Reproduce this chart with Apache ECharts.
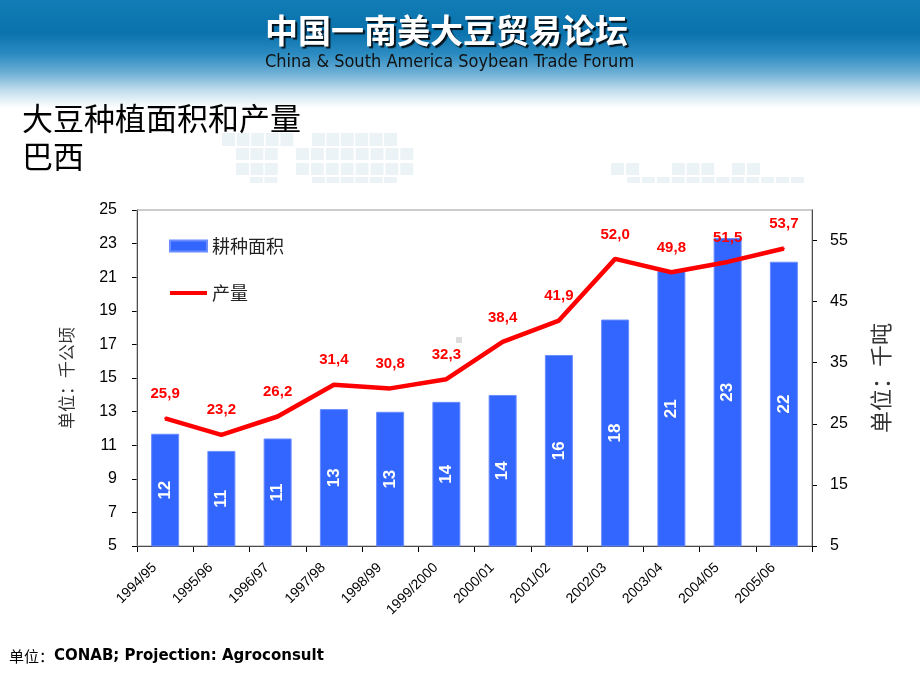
<!DOCTYPE html>
<html>
<head>
<meta charset="utf-8">
<script src="https://cdn.jsdelivr.net/npm/echarts@6/dist/echarts.min.js"></script>
<style>
html,body{margin:0;padding:0;background:#fff;}
#chart{width:920px;height:690px;}
</style>
</head>
<body>
<div id="chart"></div>
<script>
var categories = ['1994/95','1995/96','1996/97','1997/98','1998/99','1999/2000','2000/01','2001/02','2002/03','2003/04','2004/05','2005/06'];
var areaValues = [11.68, 10.66, 11.40, 13.15, 12.99, 13.58, 13.99, 16.37, 18.48, 21.37, 23.33, 21.92];
var productionValues = [25.9, 23.2, 26.2, 31.4, 30.8, 32.3, 38.4, 41.9, 52.0, 49.8, 51.5, 53.7];
var leftTicks = {min: 5, max: 25, interval: 2};
var rightTicks = {min: 5, max: 60, interval: 10};

var CJK = '"Noto Sans CJK SC", "Liberation Sans", sans-serif';
var LAT = '"Liberation Sans", Arial, sans-serif';

var chart = echarts.init(document.getElementById('chart'), null, {renderer: 'canvas'});

// decorative faint squares
var deco = [];
function sqRow(x0, y, n, w, h, step) {
  for (var i = 0; i < n; i++) {
    deco.push({type: 'rect', silent: true, z: 0,
      shape: {x: x0 + i * step, y: y, width: w, height: h},
      style: {fill: '#ecf3f7'}});
  }
}
sqRow(222, 133, 5, 13, 13, 14.6);
sqRow(312, 133, 6, 13, 13, 14.4);
sqRow(236, 148, 3, 13, 12, 14.4);
sqRow(296, 148, 8, 13, 12, 14.9);
sqRow(236, 163, 3, 13, 12, 14.4);
sqRow(296, 163, 8, 13, 12, 14.9);
sqRow(250, 177, 2, 13, 6, 14.4);
sqRow(312, 177, 6, 13, 6, 14.4);
sqRow(611, 163, 2, 13, 12, 15);
sqRow(672, 163, 3, 13, 12, 14.6);
sqRow(732, 163, 2, 13, 12, 15);
sqRow(627, 177, 12, 13, 6, 14.9);

var graphics = [
  {type: 'rect', silent: true, z: 0,
   shape: {x: 0, y: 0, width: 920, height: 108},
   style: {fill: new echarts.graphic.LinearGradient(0, 0, 0, 1, [
     {offset: 0, color: '#117cb5'},
     {offset: 0.3, color: '#0a72ad'},
     {offset: 0.5, color: '#2b8bc1'},
     {offset: 0.68, color: '#6fb0d6'},
     {offset: 0.82, color: '#b9d9ea'},
     {offset: 0.93, color: '#e6f1f7'},
     {offset: 1, color: '#ffffff'}
   ])}},
  {type: 'text', silent: true, z: 2, left: 265, top: 14,
   style: {text: '中国一南美大豆贸易论坛', fill: '#ffffff',
     font: 'bold 33px "Noto Sans CJK SC", sans-serif',
     textShadowColor: 'rgba(0,0,0,0.85)', textShadowOffsetX: 2, textShadowOffsetY: 2, textShadowBlur: 1}},
  {type: 'text', silent: true, z: 2, left: 265, top: 53,
   style: {text: 'China & South America Soybean Trade Forum', fill: '#111111',
     font: '18px "DejaVu Sans Condensed", "DejaVu Sans", sans-serif'}},
  {type: 'text', silent: true, z: 2, left: 22, top: 103,
   style: {text: '大豆种植面积和产量', fill: '#000000', font: '31px ' + CJK}},
  {type: 'text', silent: true, z: 2, left: 22, top: 141,
   style: {text: '巴西', fill: '#000000', font: '31px ' + CJK}},
  {type: 'rect', silent: true, z: 2, shape: {x: 456, y: 337, width: 6, height: 6}, style: {fill: '#dddddd'}},
  {type: 'text', silent: true, z: 2, left: 9, top: 649,
   style: {text: '{a|单位：}{b|CONAB; Projection: Agroconsult}',
     rich: {
       a: {font: '15px "Noto Sans CJK SC", sans-serif', fill: '#000'},
       b: {font: 'bold 15px "DejaVu Sans", Verdana, sans-serif', fill: '#000'}
     }}}
].concat(deco);

var option = {
  backgroundColor: 'transparent',
  animation: false,
  graphic: graphics,
  grid: {left: 137, right: 108, top: 210, bottom: 144, show: true, borderColor: '#999999', borderWidth: 1, backgroundColor: 'transparent', z: 1},
  legend: {
    orient: 'vertical', left: 164, top: 232, itemWidth: 37, itemHeight: 11, itemGap: 29,
    textStyle: {fontSize: 18, color: '#222', fontFamily: CJK},
    data: [
      {name: '耕种面积', icon: 'rect'},
      {name: '产量', icon: 'path://M0,0 L37,0 L37,4 L0,4 Z'}
    ]
  },
  xAxis: {
    type: 'category', data: categories,
    axisLine: {lineStyle: {color: '#000', width: 1}},
    axisTick: {show: true, length: 6, lineStyle: {color: '#000'}},
    axisLabel: {rotate: 45, fontSize: 14, color: '#000', fontFamily: LAT, margin: 9, interval: 0, padding: [0, 15, 0, 0]},
    splitLine: {show: false}
  },
  yAxis: [
    {type: 'value', min: leftTicks.min, max: leftTicks.max, interval: leftTicks.interval,
     name: '单位：千公顷', nameLocation: 'middle', nameRotate: 90, nameGap: 62,
     nameTextStyle: {fontSize: 17, color: '#333', fontFamily: CJK},
     axisLine: {show: true, lineStyle: {color: '#000'}},
     axisTick: {show: true, length: 5, lineStyle: {color: '#000'}},
     axisLabel: {fontSize: 16, color: '#000', fontFamily: LAT, margin: 20},
     splitLine: {show: false}},
    {type: 'value', position: 'right', min: rightTicks.min, max: rightTicks.max, interval: rightTicks.interval,
     name: '单位：千吨', nameLocation: 'middle', nameRotate: 90, nameGap: 58,
     nameTextStyle: {fontSize: 22, color: '#333', fontFamily: CJK},
     axisLine: {show: true, lineStyle: {color: '#000'}},
     axisTick: {show: true, length: 5, lineStyle: {color: '#000'}},
     axisLabel: {fontSize: 16, color: '#000', fontFamily: LAT, margin: 18, showMaxLabel: false},
     splitLine: {show: false}}
  ],
  series: [
    {name: '耕种面积', type: 'bar', yAxisIndex: 0, data: areaValues, barWidth: 28, z: 2,
     itemStyle: {color: '#3366ff', borderColor: '#6a8dff', borderWidth: 1},
     label: {show: true, position: 'inside', rotate: 90, color: '#ffffff', fontSize: 17, fontWeight: 'bold', fontFamily: LAT,
       formatter: function (p) { return String(Math.round(p.value)); }}},
    {name: '产量', type: 'line', yAxisIndex: 1, data: productionValues, z: 3,
     symbol: 'circle', symbolSize: 2, showSymbol: true,
     itemStyle: {color: '#ff0000'},
     lineStyle: {color: '#ff0000', width: 4.5},
     label: {show: true, position: 'top', distance: 16, color: '#ff0000', fontSize: 15, fontWeight: 'bold', fontFamily: LAT,
       formatter: function (p) { return p.value.toFixed(1).replace('.', ','); }}}
  ]
};
chart.setOption(option);
</script>
</body>
</html>
